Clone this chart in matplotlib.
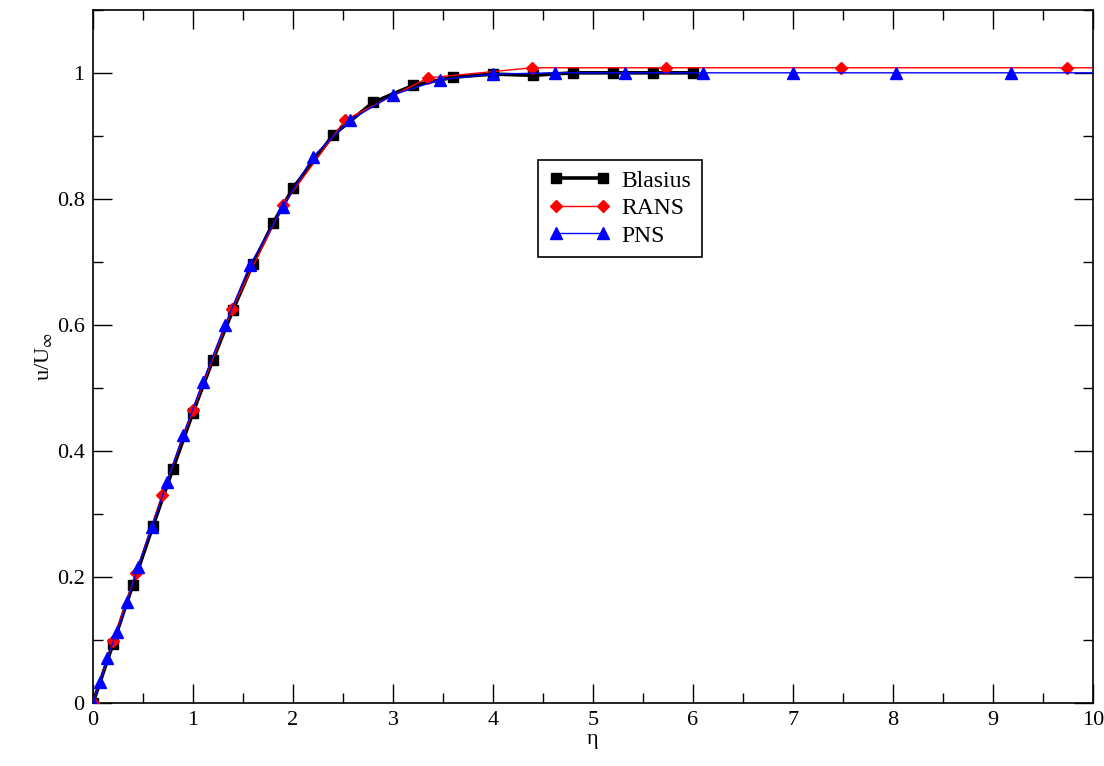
import numpy as np
import matplotlib
matplotlib.use('Agg')
import matplotlib.pyplot as plt
from matplotlib.ticker import MultipleLocator, FormatStrFormatter

plt.rcParams['font.family'] = ['Liberation Serif', 'DejaVu Serif']
plt.rcParams['mathtext.fontset'] = 'stix'

# Blasius (tabulated)
eta_blasius = [0.0, 0.2, 0.4, 0.6, 0.8, 1.0, 1.2, 1.4, 1.6, 1.8, 2.0,
               2.4, 2.8, 3.2, 3.6, 4.0, 4.4, 4.8, 5.2, 5.6, 6.0]
u_blasius = [0.0, 0.094, 0.188, 0.281, 0.372, 0.461, 0.545, 0.624, 0.697, 0.761, 0.817,
             0.901, 0.953, 0.980, 0.993, 0.998, 0.996, 1.0, 1.0, 1.0, 1.0]

# RANS
eta_rans = [0.0, 0.2, 0.43, 0.69, 1.0, 1.39, 1.9, 2.52, 3.35, 4.39, 5.73, 7.48, 9.74, 12.7]
u_rans = [0.0, 0.098, 0.206, 0.33, 0.465, 0.625, 0.79, 0.925, 0.992, 1.008, 1.008, 1.008, 1.008, 1.008]

# PNS
eta_pns = [0.0, 0.07, 0.14, 0.24, 0.34, 0.45, 0.59, 0.74, 0.9, 1.1, 1.32, 1.57, 1.9,
           2.2, 2.57, 3.0, 3.47, 4.0, 4.62, 5.32, 6.1, 7.0, 8.03, 9.18, 10.5]
u_pns = [0.0, 0.033, 0.071, 0.113, 0.16, 0.216, 0.279, 0.351, 0.425, 0.51, 0.6, 0.695, 0.787,
         0.867, 0.925, 0.965, 0.989, 0.998, 1.0, 1.0, 1.0, 1.0, 1.0, 1.0, 1.0]

fig = plt.figure(figsize=(11.04, 7.66), dpi=100)
ax = fig.add_axes([0.0842, 0.0822, 0.9058, 0.905])

ax.plot(eta_blasius, u_blasius, color='black', lw=2.6, marker='s', ms=7, label='Blasius', zorder=3)
ax.plot(eta_rans, u_rans, color='red', lw=1.0, marker='D', ms=6, label='RANS', zorder=4)
ax.plot(eta_pns, u_pns, color='blue', lw=1.0, marker='^', ms=8, label='PNS', zorder=5)

ax.set_xlim(0, 10)
ax.set_ylim(0, 1.1)
ax.xaxis.set_major_locator(MultipleLocator(1))
ax.xaxis.set_minor_locator(MultipleLocator(0.5))
ax.yaxis.set_major_locator(MultipleLocator(0.2))
ax.yaxis.set_minor_locator(MultipleLocator(0.1))
ax.yaxis.set_major_formatter(FormatStrFormatter('%g'))
ax.tick_params(which='both', direction='in', top=True, right=True, width=1, labelsize=16, pad=6)
ax.tick_params(which='major', length=14)
ax.tick_params(which='minor', length=7)
for s in ax.spines.values():
    s.set_linewidth(1.2)

ax.set_xlabel('η', fontsize=16, labelpad=0)
ax.set_ylabel(r'u/U$_\infty$', fontsize=16, labelpad=2)

leg = ax.legend(loc='upper left', bbox_to_anchor=(0.445, 0.784), borderaxespad=0,
                fontsize=17, numpoints=2,
                fancybox=False, framealpha=1, edgecolor='black', handlelength=2.6,
                borderpad=0.45, labelspacing=0.25, handletextpad=0.5)
leg.get_frame().set_linewidth(1.2)

fig.savefig('out.png', dpi=100)
